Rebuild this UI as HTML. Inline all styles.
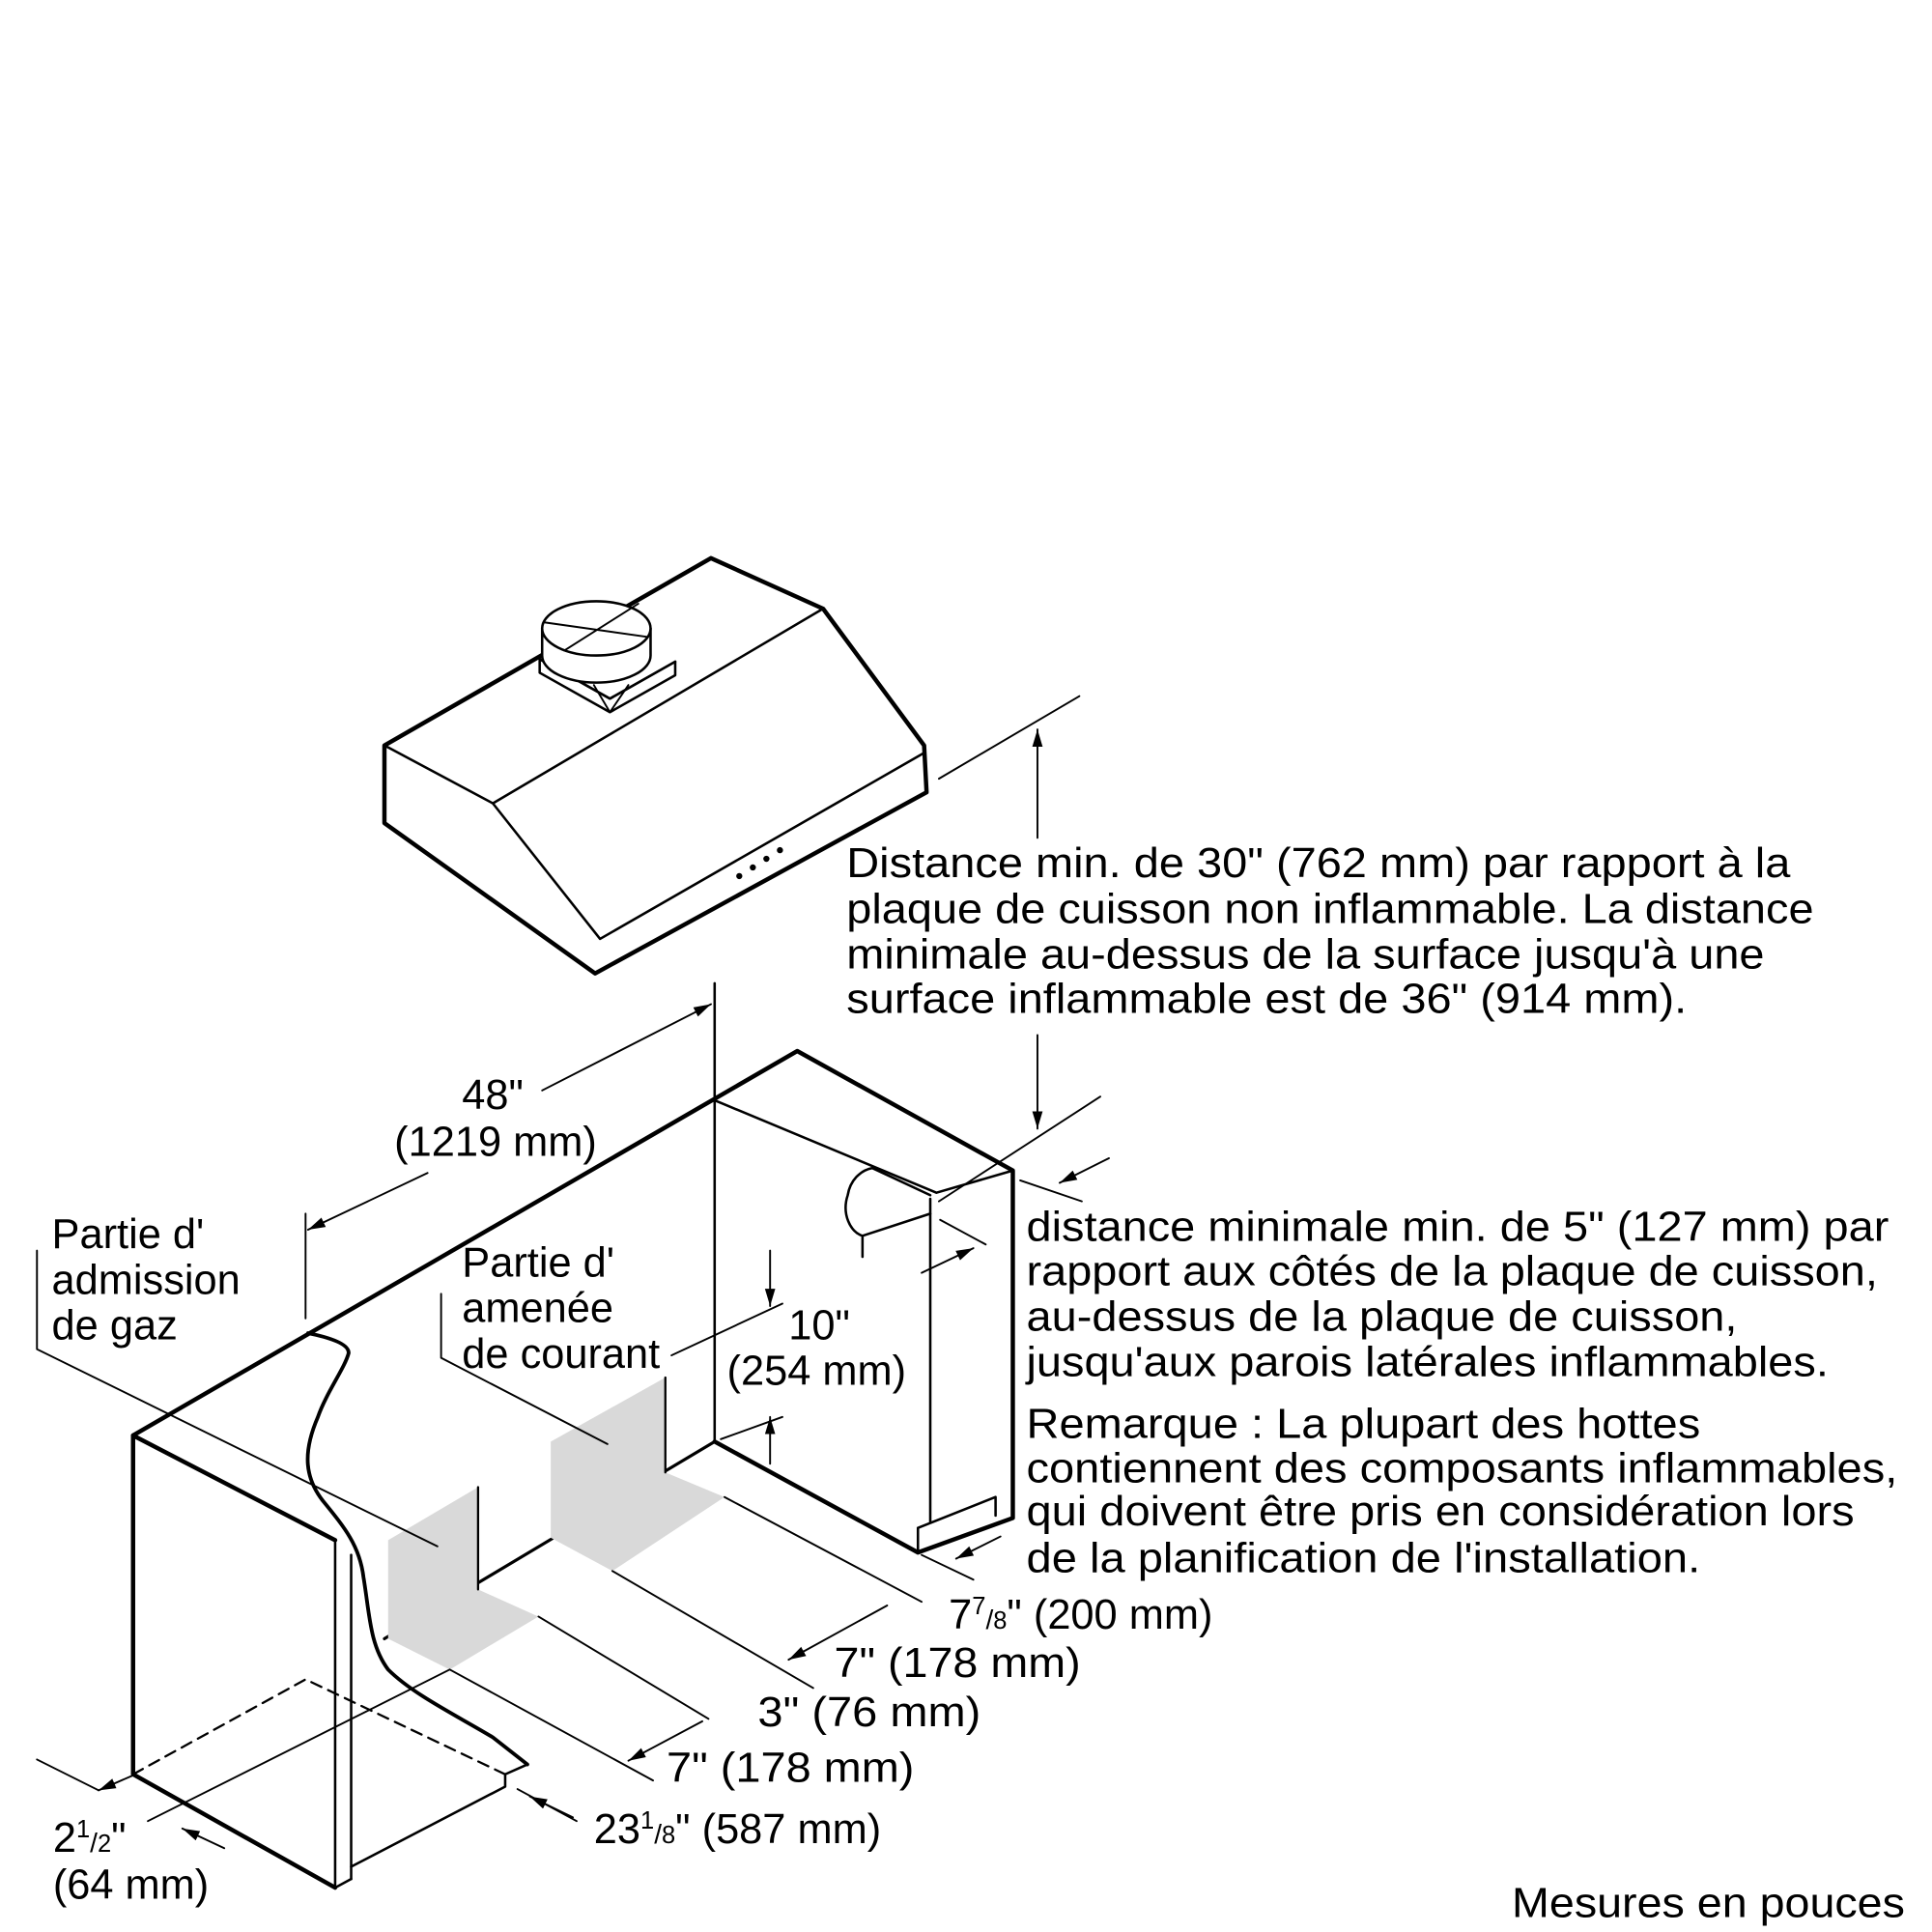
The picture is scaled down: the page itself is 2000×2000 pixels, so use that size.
<!DOCTYPE html>
<html><head><meta charset="utf-8"><style>
html,body{margin:0;padding:0;background:#fff}
svg{display:block}
text{font-family:"Liberation Sans",Arial,sans-serif;font-size:34px;fill:#000}
</style></head><body>
<svg width="2000" height="2000" viewBox="0 0 1568 1568" xmlns="http://www.w3.org/2000/svg">
<defs>
<marker id="ar" viewBox="0 0 10 10" refX="10" refY="5" markerWidth="14" markerHeight="14" orient="auto-start-reverse" markerUnits="userSpaceOnUse"><path d="M0,2 L10,5 L0,8 Z" fill="#000"/></marker>
</defs>
<g fill="none" stroke="#000" stroke-linejoin="round" stroke-linecap="round">
<path d="M312,605 L577,453 L668,494 L750,605 L752,643 L483,790 L312,668 Z" stroke-width="3.5"/>
<path d="M312,605 L400,652 L668,494 M400,652 L487,762 L750,611" stroke-width="2"/>
<path d="M438,535 L438,546 L495,578 L548,548 L548,537 L495,567 Z" stroke-width="2" fill="#fff"/>
<path d="M482,556 L495,578 L510,556" stroke-width="1.5"/>
<path d="M438,535 L495,567 L548,537" stroke-width="2"/>
<path d="M440,510 L440,532 A44,22 0 0 0 528,532 L528,510" stroke-width="2" fill="#fff"/>
<ellipse cx="484" cy="510" rx="44" ry="22" stroke-width="2" fill="#fff"/>
<path d="M441,505 L526,517 M458,528 L518,490" stroke-width="1.5"/>
<circle cx="600" cy="711" r="2" fill="#000"/><circle cx="611" cy="704" r="2" fill="#000"/><circle cx="622" cy="697" r="2" fill="#000"/><circle cx="633" cy="690" r="2" fill="#000"/>
<path d="M108,1165 L647,853 L822,950 L822,1232 L745,1260 L580,1170" stroke-width="3.5"/>
<path d="M108,1165 L272,1250 M108,1165 L108,1440 L272,1532" stroke-width="3.5"/>
<path d="M272,1532 L285,1525 M285,1515 L410,1450 L410,1440 L428,1432" stroke-width="2"/>
<path d="M285,1262 L285,1525 M272,1250 L272,1532" stroke-width="2"/>
<path d="M108,1440 L248,1363 L410,1440" stroke-width="1.8" stroke-dasharray="9,6"/>
<path d="M250,1082 C265,1085 283,1090 283,1098 C280,1110 265,1130 258,1150 C245,1180 248,1200 262,1218 C280,1240 292,1255 295,1280 C300,1310 300,1335 315,1355 C335,1375 370,1392 400,1410 L428,1432" stroke-width="3"/>
<path d="M580,798 L580,1170 M580,893 L760,968 L822,950 M755,973 L755,1235 M745,1240 L745,1260 M745,1240 L808,1215 L808,1230" stroke-width="2"/>
<path d="M312,1330 L580,1170" stroke-width="2.5"/>
<path d="M700,1020 L700,1003 L755,985 M700,1003 C690,1000 683,985 688,970 C690,958 698,950 708,948 L755,970" stroke-width="2"/>
<path d="M315,1250 L388,1207 L388,1290 L315,1330 Z M315,1330 L388,1290 L437,1312 L365,1355 Z M447,1170 L540,1118 L540,1195 L447,1248 Z M447,1248 L540,1195 L588,1215 L497,1275 Z" fill="#d9d9d9" stroke="none"/>
<path d="M388,1207 L388,1290 M540,1118 L540,1195" stroke-width="1.8"/>
<path d="M30,1015 L30,1095 L355,1255 M358,1050 L358,1102 L493,1172" stroke-width="1.5"/>
<path d="M248,985 L248,1070" stroke-width="1.5"/>
<path d="M347,952 L250,998" stroke-width="1.5" marker-end="url(#ar)"/>
<path d="M440,885 L577,815" stroke-width="1.5" marker-end="url(#ar)"/>
<path d="M762,632 L876,565 M762,975 L893,890" stroke-width="1.5"/>
<path d="M842,680 L842,592" stroke-width="1.5" marker-end="url(#ar)"/>
<path d="M842,840 L842,916" stroke-width="1.5" marker-end="url(#ar)"/>
<path d="M828,958 L878,975 M763,990 L800,1010" stroke-width="1.5"/>
<path d="M900,940 L860,960" stroke-width="1.5" marker-end="url(#ar)"/>
<path d="M748,1033 L790,1013" stroke-width="1.5" marker-end="url(#ar)"/>
<path d="M625,1015 L625,1060" stroke-width="1.5" marker-end="url(#ar)"/>
<path d="M545,1100 L635,1058 M585,1168 L635,1150" stroke-width="1.5"/>
<path d="M625,1188 L625,1150" stroke-width="1.5" marker-end="url(#ar)"/>
<path d="M748,1262 L790,1282 M588,1215 L748,1300 M497,1275 L660,1370 M437,1312 L575,1395 M365,1355 L530,1445 M120,1478 L365,1355 M420,1452 L468,1478 M30,1428 L80,1453" stroke-width="1.5"/>
<path d="M812,1247 L776,1265" stroke-width="1.5" marker-end="url(#ar)"/>
<path d="M720,1303 L640,1347" stroke-width="1.5" marker-end="url(#ar)"/>
<path d="M570,1397 L510,1429" stroke-width="1.5" marker-end="url(#ar)"/>
<path d="M465,1475 L430,1458" stroke-width="1.5" marker-end="url(#ar)"/>
<path d="M110,1440 L80,1453" stroke-width="1.5" marker-end="url(#ar)"/>
<path d="M182,1500 L148,1484" stroke-width="1.5" marker-end="url(#ar)"/>
</g>
<text x="687" y="712" textLength="766" lengthAdjust="spacingAndGlyphs">Distance min. de 30" (762 mm) par rapport à la</text>
<text x="687" y="749" textLength="785" lengthAdjust="spacingAndGlyphs">plaque de cuisson non inflammable. La distance</text>
<text x="687" y="786" textLength="745" lengthAdjust="spacingAndGlyphs">minimale au-dessus de la surface jusqu'à une</text>
<text x="687" y="822" textLength="682" lengthAdjust="spacingAndGlyphs">surface inflammable est de 36" (914 mm).</text>
<text x="833" y="1007" textLength="700" lengthAdjust="spacingAndGlyphs">distance minimale min. de 5" (127 mm) par</text>
<text x="833" y="1043" textLength="691" lengthAdjust="spacingAndGlyphs">rapport aux côtés de la plaque de cuisson,</text>
<text x="833" y="1080" textLength="577" lengthAdjust="spacingAndGlyphs">au-dessus de la plaque de cuisson,</text>
<text x="833" y="1117" textLength="651" lengthAdjust="spacingAndGlyphs">jusqu'aux parois latérales inflammables.</text>
<text x="833" y="1167" textLength="547" lengthAdjust="spacingAndGlyphs">Remarque : La plupart des hottes</text>
<text x="833" y="1203" textLength="707" lengthAdjust="spacingAndGlyphs">contiennent des composants inflammables,</text>
<text x="833" y="1238" textLength="672" lengthAdjust="spacingAndGlyphs">qui doivent être pris en considération lors</text>
<text x="833" y="1276" textLength="547" lengthAdjust="spacingAndGlyphs">de la planification de l'installation.</text>
<text x="770" y="1322">7<tspan font-size="20" dy="-12">7</tspan><tspan font-size="22" dy="12">/</tspan><tspan font-size="20">8</tspan>" (200 mm)</text>
<text x="677" y="1361" textLength="200" lengthAdjust="spacingAndGlyphs">7" (178 mm)</text>
<text x="615" y="1401" textLength="181" lengthAdjust="spacingAndGlyphs">3" (76 mm)</text>
<text x="541" y="1446" textLength="201" lengthAdjust="spacingAndGlyphs">7" (178 mm)</text>
<text x="482" y="1496">23<tspan font-size="20" dy="-12">1</tspan><tspan font-size="22" dy="12">/</tspan><tspan font-size="20">8</tspan>" (587 mm)</text>
<text x="1227" y="1556" textLength="319" lengthAdjust="spacingAndGlyphs">Mesures en pouces</text>
<text x="42" y="1013">Partie d'</text>
<text x="42" y="1050">admission</text>
<text x="42" y="1087">de gaz</text>
<text x="375" y="1036">Partie d'</text>
<text x="375" y="1073">amenée</text>
<text x="375" y="1110">de courant</text>
<text x="375" y="900">48"</text>
<text x="320" y="938">(1219 mm)</text>
<text x="640" y="1087">10"</text>
<text x="590" y="1124">(254 mm)</text>
<text x="43" y="1503">2<tspan font-size="20" dy="-12">1</tspan><tspan font-size="22" dy="12">/</tspan><tspan font-size="20">2</tspan>"</text>
<text x="43" y="1541">(64 mm)</text>
</svg>
</body></html>
